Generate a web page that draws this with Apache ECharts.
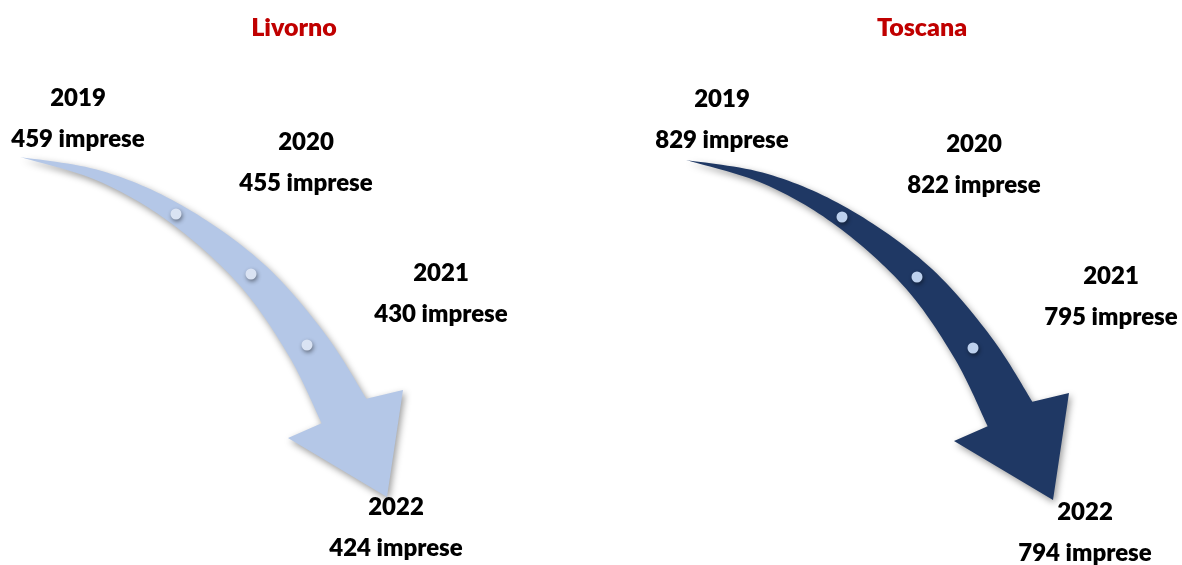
<!DOCTYPE html>
<html><head><meta charset="utf-8">
<script src="https://cdn.jsdelivr.net/npm/echarts@6/dist/echarts.min.js"></script>
<style>html,body{margin:0;padding:0;background:#fff}#c{width:1182px;height:565px}</style>
</head><body><div id="c"></div>
<script>
// ---- data ----
const years = ['2019', '2020', '2021', '2022'];
const regions = ['Livorno', 'Toscana'];
const livorno = [459, 455, 430, 424];
const toscana = [829, 822, 795, 794];
const unitLabel = 'imprese';

// ---- layout (pixel units of a hidden 1182x565 axis) ----
const W = 1182, H = 565;
const panelOffset = [[0, 0], [666, 3]];
const spine = [[20, 157], [100, 176], [176, 214], [251, 274], [307, 345], [344, 411]];
const neckWidth = 51;
const head = { leftBarb: [288, 438], tip: [387, 497], rightBarb: [403, 390] };
const dotPos = [[176, 214], [251, 274], [307, 345]];
const labelPos = [
  [[78, 119], [306, 163], [441, 294], [396, 528]],
  [[722, 120], [974, 165], [1111, 297], [1085, 533]]
];
const titlePos = [[294, 28], [922, 28]];
const arrowColors = ['#B4C7E7', '#1F3864'];
const dotColors = ['#DAE3F3', '#BDD1EE'];
const FONT = 'Lato';

function sampleSpine(pts, n) {
  const out = [];
  for (let i = 0; i < pts.length - 1; i++) {
    const p0 = pts[Math.max(i - 1, 0)], p1 = pts[i], p2 = pts[i + 1], p3 = pts[Math.min(i + 2, pts.length - 1)];
    for (let k = 0; k < n; k++) {
      const t = k / n, t2 = t * t, t3 = t2 * t;
      const f = (a, b, c, d) => 0.5 * ((2 * b) + (-a + c) * t + (2 * a - 5 * b + 4 * c - d) * t2 + (-a + 3 * b - 3 * c + d) * t3);
      out.push([f(p0[0], p1[0], p2[0], p3[0]), f(p0[1], p1[1], p2[1], p3[1])]);
    }
  }
  out.push(pts[pts.length - 1]);
  return out;
}
function arrowOutline() {
  const s = sampleSpine(spine, 16);
  const len = [0];
  for (let i = 1; i < s.length; i++) len.push(len[i - 1] + Math.hypot(s[i][0] - s[i - 1][0], s[i][1] - s[i - 1][1]));
  const L = len[len.length - 1];
  const A = [], B = [];
  for (let i = 0; i < s.length; i++) {
    const a = s[Math.max(i - 1, 0)], b = s[Math.min(i + 1, s.length - 1)];
    let tx = b[0] - a[0], ty = b[1] - a[1]; const m = Math.hypot(tx, ty); tx /= m; ty /= m;
    const w = neckWidth / 2 * Math.pow(len[i] / L, 0.95);
    A.push([s[i][0] + ty * w, s[i][1] - tx * w]);
    B.push([s[i][0] - ty * w, s[i][1] + tx * w]);
  }
  return B.concat([head.leftBarb, head.tip, head.rightBarb], A.reverse());
}
const outline = arrowOutline();
const values = [livorno, toscana];

const chart = echarts.init(document.getElementById('c'), null, { renderer: 'canvas' });
const series = [{
  type: 'custom', coordinateSystem: 'cartesian2d', silent: true, z: 1,
  data: regions.map((r, i) => [i, 0]),
  renderItem: (params, api) => {
    const i = params.dataIndex; const off = panelOffset[i];
    const pts = outline.map(p => api.coord([p[0] + off[0], p[1] + off[1]]));
    return {
      type: 'polygon', shape: { points: pts },
      style: { fill: arrowColors[i], shadowBlur: 7, shadowOffsetX: 2, shadowOffsetY: 3, shadowColor: 'rgba(0,0,0,0.4)' }
    };
  }
}];
const txt = { fontFamily: FONT, fontWeight: 800, fontSize: 24, color: '#000', textBorderWidth: 0, lineHeight: 41, align: 'center' };
regions.forEach((r, i) => {
  const off = panelOffset[i];
  series.push({
    type: 'scatter', silent: true, z: 3, symbolSize: 11,
    data: dotPos.map(p => [p[0] + off[0], p[1] + off[1]]),
    itemStyle: { color: dotColors[i], opacity: 1, shadowBlur: 4, shadowOffsetX: 1, shadowOffsetY: 2, shadowColor: 'rgba(0,0,0,0.45)' }
  });
  series.push({
    type: 'scatter', silent: true, z: 4, symbolSize: 0,
    itemStyle: { opacity: 1 },
    data: labelPos[i].map(p => p.slice()),
    label: {
      show: true, position: 'inside', color: '#000', textBorderWidth: 0,
      formatter: p => `{y|${years[p.dataIndex]}}\n{v|${values[i][p.dataIndex]} ${unitLabel}}`,
      rich: { y: txt, v: txt }
    }
  });
  series.push({
    type: 'scatter', silent: true, z: 4, symbolSize: 0,
    itemStyle: { opacity: 1 },
    data: [titlePos[i].slice()],
    label: { show: true, position: 'inside', formatter: r, fontFamily: FONT, fontWeight: 800, fontSize: 25, color: '#C00000', textBorderWidth: 0 }
  });
});
chart.setOption({
  animation: false,
  grid: { left: 0, right: 0, top: 0, bottom: 0 },
  xAxis: { type: 'value', min: 0, max: W, show: false },
  yAxis: { type: 'value', min: 0, max: H, inverse: true, show: false },
  series
});
</script></body></html>
